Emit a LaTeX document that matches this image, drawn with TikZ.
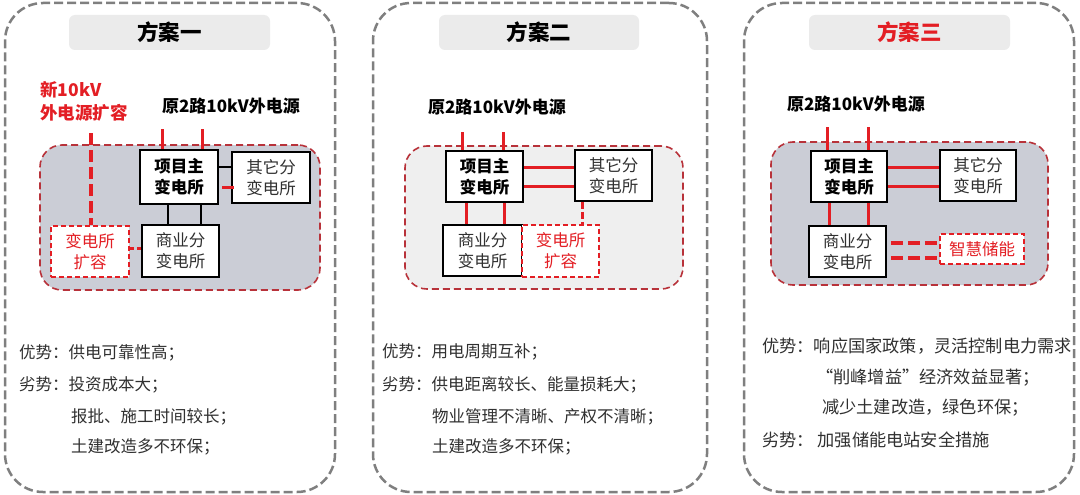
\documentclass[tikz,border=0pt]{standalone}
\usepackage{fontspec}
\setmainfont{Noto Sans CJK SC}
\usetikzlibrary{calc}
\definecolor{myred}{HTML}{E31E24}
\definecolor{zonered}{HTML}{B8323A}
\definecolor{zonefill}{HTML}{CBCDD6}
\definecolor{zonefilltwo}{HTML}{EFEFEF}
\definecolor{titlefill}{HTML}{EBEBEB}
\definecolor{panelgray}{HTML}{7F7F7F}
\definecolor{txt}{HTML}{303030}
\tikzset{
  panel/.style={draw=panelgray, line width=2.5pt, dash pattern=on 9pt off 4pt, rounded corners=38pt, minimum height=489pt, inner sep=0pt},
  titlebox/.style={fill=titlefill, rounded corners=6pt, minimum width=201pt, minimum height=35pt, font=\bfseries\fontsize{21.5}{24}\selectfont, text=black},
  zone/.style={draw=zonered, line width=1.6pt, dash pattern=on 7pt off 4pt, rounded corners=22pt, inner sep=0pt},
  mainbox/.style={draw=black, line width=2pt, fill=white, align=center, inner sep=0pt, font=\bfseries\fontsize{16.5}{21}\selectfont},
  subbox/.style={draw=black, line width=1.6pt, fill=white, align=center, inner sep=0pt, font=\fontsize{16.5}{21}\selectfont, text=txt},
  newbox/.style={draw=myred, line width=1.8pt, dash pattern=on 5pt off 3pt, fill=white, align=center, inner sep=0pt, font=\fontsize{16.5}{21}\selectfont, text=myred},
  feedlabel/.style={font=\bfseries\fontsize{17}{22}\selectfont, text=black, inner sep=0pt},
  redline/.style={draw=myred, line width=3pt},
  blackline/.style={draw=black, line width=1.6pt},
  reddash/.style={draw=myred, line width=3.4pt, dash pattern=on 12pt off 5pt},
  body/.style={anchor=west, inner sep=0pt, text=txt, font=\fontsize{16.5}{20}\selectfont},
  bodythree/.style={anchor=west, inner sep=0pt, text=txt, font=\fontsize{17.2}{20}\selectfont}
}
\begin{document}
\begin{tikzpicture}[x=1pt,y=-1pt]
\useasboundingbox (0,0) rectangle (1080,495);
\fill[white] (0,0) rectangle (1080,495);

% ---------- outer panels ----------
\node[panel, minimum width=330pt] (p1) at (170,247.5) {};
\node[panel, minimum width=334pt] (p2) at (540,247.5) {};
\node[panel, minimum width=330pt] (p3) at (909,247.5) {};

\node[titlebox] (t1) at (169.5,32.5) {方案一};
\node[titlebox, minimum width=200pt] (t2) at (539,32.5) {方案二};
\node[titlebox, text=myred] (t3) at (909.5,32.5) {方案三};

% ---------- panel 1 ----------
\node[zone, fill=zonefill, minimum width=280pt, minimum height=145pt] (z1) at (180,217.5) {};
\node[font=\bfseries\fontsize{17.5}{23}\selectfont, text=myred, align=left, anchor=west, inner sep=0pt] (n1l) at (40,101.5) {新10kV\\外电源扩容};
\node[feedlabel] (l1) at (231,106) {原2路10kV外电源};
\node[mainbox, minimum width=78pt, minimum height=54pt] (m1) at (179,177) {项目主\\变电所};
\node[subbox, minimum width=78pt, minimum height=51pt] (o1) at (271,177.5) {其它分\\变电所};
\node[subbox, minimum width=77pt, minimum height=52pt] (c1) at (180.5,251) {商业分\\变电所};
\node[newbox, minimum width=78pt, minimum height=51pt] (e1) at (90,251.5) {变电所\\扩容};
\coordinate (f1a) at (162,129);
\coordinate (f1b) at (202,129);
\coordinate (n1c) at (91,133);
\draw[redline] (f1a) -- (f1a |- m1.north);
\draw[redline] (f1b) -- (f1b |- m1.north);
\draw[reddash] (n1c) -- (n1c |- e1.north);
\draw[blackline] ([yshift=10pt]m1.east) -- ([yshift=10pt]m1.east -| o1.west);
\draw[redline] ([yshift=-10pt,xshift=3pt]m1.east) -- ([yshift=-10pt,xshift=3pt]m1.east -| o1.west);
\draw[blackline] ([xshift=-11pt]m1.south) -- ([xshift=-11pt]m1.south |- c1.north);
\draw[blackline] ([xshift=22pt]m1.south) -- ([xshift=22pt]m1.south |- c1.north);
\draw[draw=myred, line width=2.5pt, dash pattern=on 4pt off 3pt] ([yshift=3pt]e1.east) -- ([yshift=3pt]e1.east -| c1.west);

\node[body] (a1) at (19,353) {优势：供电可靠性高；};
\node[body] (b1) at (19,385) {劣势：投资成本大；};
\node[body] (b1b) at (71,417) {报批、施工时间较长；};
\node[body] (b1c) at (71,447) {土建改造多不环保；};

% ---------- panel 2 ----------
\node[zone, fill=zonefilltwo, minimum width=278pt, minimum height=143pt] (z2) at (544,217.5) {};
\node[feedlabel] (l2) at (497,107) {原2路10kV外电源};
\node[mainbox, minimum width=77pt, minimum height=51pt] (m2) at (484.5,176.5) {项目主\\变电所};
\node[subbox, minimum width=77pt, minimum height=51pt] (o2) at (613.5,175.5) {其它分\\变电所};
\node[subbox, minimum width=79pt, minimum height=51pt] (c2) at (482.5,250.5) {商业分\\变电所};
\node[newbox, minimum width=77pt, minimum height=52pt] (e2) at (560.5,251) {变电所\\扩容};
\coordinate (f2a) at (462,132);
\coordinate (f2b) at (503,132);
\draw[redline] (f2a) -- (f2a |- m2.north);
\draw[redline] (f2b) -- (f2b |- m2.north);
\draw[redline] ([yshift=9.5pt]m2.east) -- ([yshift=9.5pt]m2.east -| o2.west);
\draw[redline] ([yshift=-9.5pt]m2.east) -- ([yshift=-9.5pt]m2.east -| o2.west);
\draw[redline] ([xshift=-18.5pt]m2.south) -- ([xshift=-18.5pt]m2.south |- c2.north);
\draw[redline] ([xshift=19.5pt]m2.south) -- ([xshift=19.5pt]m2.south |- c2.north);
\draw[draw=myred, line width=3pt, dash pattern=on 7pt off 3pt] ([xshift=-31.5pt]o2.south) -- ([xshift=-31.5pt]o2.south |- e2.north);

\node[body] (a2) at (382,352) {优势：用电周期互补；};
\node[body] (b2) at (382,385) {劣势：供电距离较长、能量损耗大；};
\node[body] (b2b) at (432,417) {物业管理不清晰、产权不清晰；};
\node[body] (b2c) at (432,447) {土建改造多不环保；};

% ---------- panel 3 ----------
\node[zone, fill=zonefill, minimum width=277pt, minimum height=143pt] (z3) at (909.5,213.5) {};
\node[feedlabel] (l3) at (856,104) {原2路10kV外电源};
\node[mainbox, minimum width=76pt, minimum height=51pt] (m3) at (849,176.5) {项目主\\变电所};
\node[subbox, minimum width=76pt, minimum height=51pt] (o3) at (978,175.5) {其它分\\变电所};
\node[subbox, minimum width=77pt, minimum height=51pt] (c3) at (847.5,251.5) {商业分\\变电所};
\node[newbox, minimum width=84pt, minimum height=30pt] (s3) at (982,249) {智慧储能};
\coordinate (f3a) at (827,127);
\coordinate (f3b) at (868,127);
\draw[redline] (f3a) -- (f3a |- m3.north);
\draw[redline] (f3b) -- (f3b |- m3.north);
\draw[redline] ([yshift=9.5pt]m3.east) -- ([yshift=9.5pt]m3.east -| o3.west);
\draw[redline] ([yshift=-9.5pt]m3.east) -- ([yshift=-9.5pt]m3.east -| o3.west);
\draw[redline] ([xshift=-20pt]m3.south) -- ([xshift=-20pt]m3.south |- c3.north);
\draw[redline] ([xshift=19pt]m3.south) -- ([xshift=19pt]m3.south |- c3.north);
\draw[reddash] ([yshift=8.5pt,xshift=4pt]c3.east) -- ([yshift=8.5pt]c3.east -| s3.west);
\draw[reddash] ([yshift=-6.5pt,xshift=4pt]c3.east) -- ([yshift=-6.5pt]c3.east -| s3.west);

\node[bodythree] (a3) at (762,346) {优势：响应国家政策，灵活控制电力需求};
\node[bodythree] (a3b) at (816,378) {“削峰增益”经济效益显著；};
\node[bodythree] (a3c) at (822,408) {减少土建改造，绿色环保；};
\node[bodythree] (b3) at (762,440) {劣势： 加强储能电站安全措施};
\end{tikzpicture}
\end{document}
